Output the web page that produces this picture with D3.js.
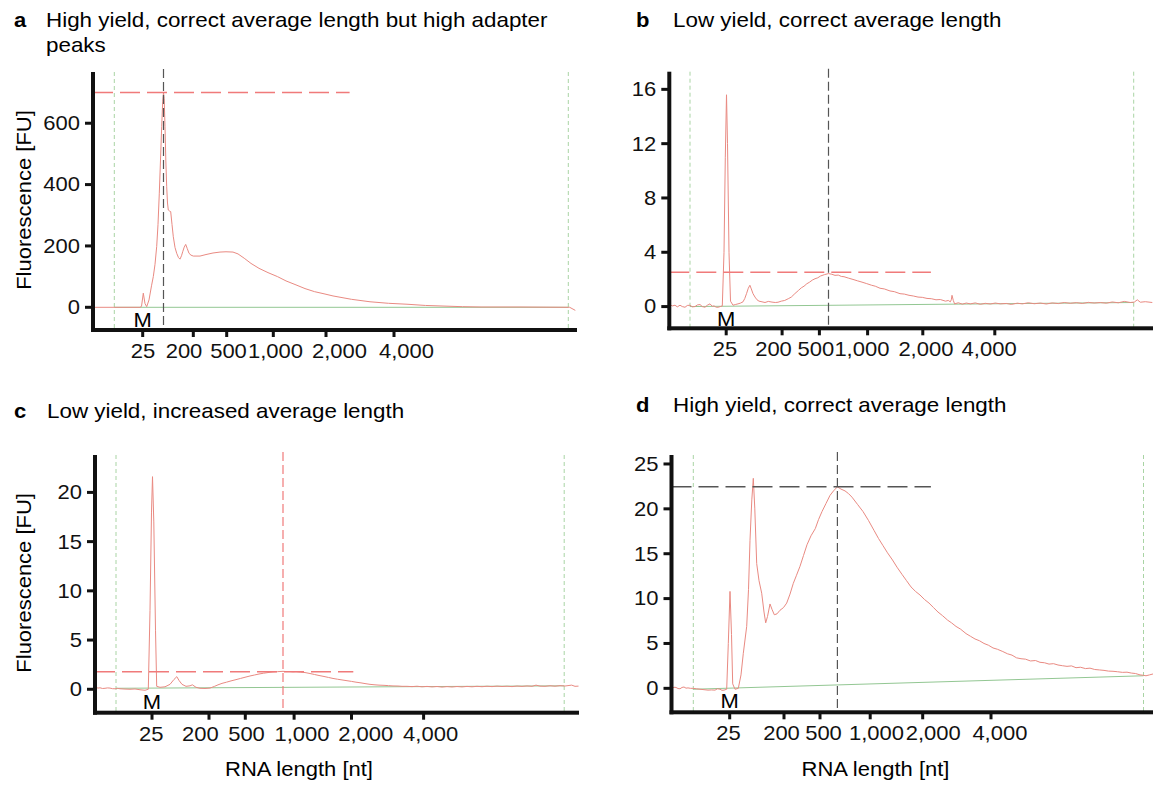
<!DOCTYPE html>
<html>
<head>
<meta charset="utf-8">
<script src="https://cdn.jsdelivr.net/npm/d3@7"></script>
<style>
  body { margin: 0; background: #fff; }
  text { font-family: "Liberation Sans", Arial, sans-serif; }
</style>
</head>
<body>
<div id="chart"></div>
<script>
// x values are migration time [s], y values fluorescence [FU]
var tickLabels = ["25", "200", "500", "1,000", "2,000", "4,000"];

// tick marks
var ticksA = [24.97, 30.03, 33.37, 38.03, 43.30, 50.10];
var ticksB = [25.69, 31.28, 35.01, 39.83, 45.35, 52.55];
var ticksC = [25.70, 31.40, 35.03, 39.91, 45.65, 52.86];
var ticksD = [25.82, 31.25, 34.85, 39.87, 45.12, 51.95];

// where the tick labels sit (they are not centred on the marks)
var labelPosA = [24.95, 29.05, 33.50, 38.20, 44.60, 51.30];
var labelPosB = [25.51, 30.37, 34.61, 39.21, 45.61, 51.93];
var labelPosC = [25.58, 30.48, 35.10, 40.65, 47.03, 53.51];
var labelPosD = [25.65, 30.95, 35.15, 40.45, 46.12, 52.79];

var yTicksA = [0, 200, 400, 600];
var yTicksB = [0, 4, 8, 12, 16];
var yTicksC = [0, 5, 10, 15, 20];
var yTicksD = [0, 5, 10, 15, 20, 25];

var yDomainA = [-74, 767];
var yDomainB = [-1.6, 17.3];
var yDomainC = [-2.38, 23.8];
var yDomainD = [-2.67, 26.0];

// lower / upper marker times (green dashed lines)
var markersA = [22.13, 67.53];
var markersB = [22.07, 66.44];
var markersC = [22.10, 66.92];
var markersD = [22.18, 67.20];

// main peak: time, height
var peakA = [27.05, 700];
var peakB = [35.92, 2.53];
var peakC = [38.80, 1.79];
var peakD = [36.59, 22.45];

// baselines
var baseA = [[22.13, 0], [67.53, 0]];
var baseB = [[22.07, 0.0], [66.44, 0.3]];
var baseC = [[22.10, 0.1], [66.92, 0.35]];
var baseD = [[22.18, -0.1], [67.20, 1.4]];

var traceA = [[20.06,0],[24.7,0],[24.85,3],[25.03,46],[25.2,12],[25.37,2],[25.6,24],[25.85,70],[26.03,100],[26.2,140],
  [26.37,198],[26.5,270],[26.63,372],[26.75,480],[26.87,589],[26.97,670],[27.05,700],[27.12,680],[27.2,589],[27.28,480],
  [27.37,393],[27.45,340],[27.53,317],[27.65,314],[27.77,312],[27.9,270],[28.03,230],[28.2,195],[28.37,176],[28.55,162],
  [28.7,157],[28.85,168],[28.97,181],[29.12,196],[29.27,205],[29.42,192],[29.6,176],[29.8,170],[30.03,167],[30.7,167],
  [31.3,172],[32.0,177],[32.7,180],[33.3,181],[34.0,180],[34.5,174],[35.12,160],[35.8,143],[36.6,127],[37.5,113],
  [38.45,100],[39.3,86],[40.3,73],[41.2,61],[42.15,51],[43.1,44],[44.0,37],[45.85,26],[47.7,18],[49.55,13],
  [51.4,10],[53.25,6],[55.1,4],[56.95,2],[58.8,1],[62.7,1],[67.67,0],[68.23,-10]];

var traceB = [[20.02,0.15],[20.3,0.05],[20.57,0.1],[20.8,-0.02],[21.07,0.1],[21.3,0.0],[21.57,-0.05],[21.8,0.08],
  [22.07,0.1],[22.3,-0.02],[22.57,0.0],[22.8,0.12],[23.07,0.15],[23.3,0.0],[23.57,-0.05],[23.8,0.1],[24.07,0.2],
  [24.3,0.02],[24.47,0.05],[24.7,-0.05],[24.87,-0.05],[25.1,0.0],[25.3,0.05],[25.47,4],[25.6,11],[25.72,15.6],
  [25.82,12],[25.97,4],[26.12,0.4],[26.37,0.1],[26.6,0.15],[26.87,0.2],[27.1,0.25],[27.37,0.35],[27.55,0.6],
  [27.72,0.95],[27.9,1.35],[28.06,1.57],[28.2,1.3],[28.37,0.95],[28.57,0.7],[28.77,0.5],[28.97,0.4],[29.27,0.35],
  [29.57,0.3],[29.9,0.38],[30.27,0.33],[30.6,0.3],[30.87,0.32],[31.2,0.4],[31.54,0.45],[31.9,0.58],[32.2,0.7],
  [32.55,0.95],[32.93,1.2],[33.2,1.38],[33.47,1.5],[33.75,1.68],[34.03,1.8],[34.3,1.95],[34.57,2.05],[34.85,2.12],
  [35.12,2.25],[35.5,2.35],[35.92,2.43],[36.25,2.38],[36.57,2.3],[36.9,2.32],[37.2,2.22],[37.47,2.2],[37.9,2.1],
  [38.37,2.0],[38.8,1.9],[39.27,1.8],[39.7,1.7],[40.23,1.57],[40.6,1.5],[41.07,1.35],[41.5,1.3],[42.07,1.15],
  [42.5,1.1],[43.07,0.95],[43.5,0.92],[43.97,0.83],[44.4,0.78],[44.87,0.7],[45.3,0.68],[45.77,0.6],[46.2,0.58],
  [46.67,0.5],[47.1,0.52],[47.62,0.4],[47.9,0.45],[48.1,0.35],[48.2,0.5],[48.27,0.83],[48.4,0.45],[48.53,0.2],
  [48.9,0.28],[49.3,0.18],[49.7,0.26],[50.1,0.2],[50.6,0.27],[51.1,0.17],[51.6,0.24],[52.1,0.19],[52.6,0.26],
  [53.1,0.2],[53.7,0.23],[54.2,0.16],[54.8,0.25],[55.3,0.2],[55.9,0.28],[56.5,0.21],[57.1,0.26],[57.7,0.19],
  [58.3,0.27],[58.9,0.22],[59.5,0.3],[60.1,0.24],[60.7,0.29],[61.3,0.23],[61.9,0.31],[62.5,0.26],[63.1,0.3],
  [63.7,0.25],[64.3,0.34],[64.9,0.28],[65.5,0.38],[66.1,0.3],[66.5,0.33],[66.8,0.5],[67.1,0.32],[67.6,0.36],[68.3,0.3]];

var traceC = [[20.05,0.2],[20.3,0.12],[20.5,0.15],[20.75,0.08],[21.0,0.1],[21.25,0.14],[21.5,0.12],[21.75,0.06],
  [22.0,0.05],[22.25,0.09],[22.5,0.05],[23.0,0.02],[23.5,0.0],[24.0,0.03],[24.5,-0.05],[25.0,-0.1],[25.33,0],
  [25.5,8],[25.65,18],[25.75,21.6],[25.88,17],[26.05,6],[26.17,0.3],[26.5,0.2],[27.0,0.25],[27.5,0.5],[27.9,1.0],
  [28.18,1.28],[28.4,0.9],[28.7,0.5],[29.1,0.3],[29.5,0.35],[29.74,0.45],[30.1,0.2],[30.5,0.1],[31.0,0.08],
  [31.5,0.12],[31.96,0.3],[32.3,0.45],[32.7,0.6],[33.15,0.72],[33.6,0.85],[34.1,0.98],[34.55,1.1],[35.0,1.22],
  [35.5,1.35],[35.95,1.45],[36.4,1.55],[36.85,1.63],[37.3,1.7],[37.8,1.76],[38.25,1.79],[38.8,1.82],[39.15,1.8],
  [39.5,1.8],[39.8,1.77],[40.1,1.79],[40.55,1.74],[41.0,1.7],[41.5,1.6],[41.95,1.5],[42.4,1.4],[42.9,1.3],
  [43.35,1.2],[43.8,1.1],[44.25,1.02],[44.7,0.95],[45.2,0.87],[45.65,0.8],[46.1,0.72],[46.6,0.65],[47.0,0.58],
  [47.5,0.5],[48.0,0.45],[48.4,0.42],[48.9,0.4],[49.35,0.37],[49.8,0.34],[50.3,0.33],[50.7,0.3],[51.2,0.3],
  [51.7,0.27],[52.2,0.31],[52.7,0.25],[53.2,0.29],[53.7,0.24],[54.2,0.28],[54.7,0.22],[55.2,0.27],[55.7,0.23],
  [56.2,0.28],[56.7,0.24],[57.2,0.29],[57.7,0.25],[58.2,0.3],[58.7,0.26],[59.2,0.31],[59.7,0.27],[60.2,0.32],
  [60.7,0.28],[61.2,0.31],[61.7,0.27],[62.2,0.33],[62.7,0.29],[63.2,0.34],[63.7,0.3],[64.1,0.42],[64.5,0.32],
  [65.0,0.3],[65.5,0.36],[66.0,0.31],[66.5,0.37],[67.0,0.33],[67.66,0.42],[68.0,0.3],[68.35,0.32]];

var traceD = [[20.05,0],[20.25,0.12],[20.45,0.1],[20.65,-0.02],[20.85,-0.05],[21.05,0.1],[21.25,0.15],[21.45,0.02],
  [21.65,0.05],[21.9,0.0],[22.15,0],[22.5,-0.05],[22.85,-0.1],[23.25,-0.15],[23.65,-0.2],[24.0,-0.18],[24.35,-0.2],
  [24.6,-0.05],[24.85,-0.1],[25.05,-0.22],[25.25,-0.2],[25.52,-0.1],[25.68,5],[25.85,10.8],[26.0,6],[26.12,0.5],
  [26.35,-0.1],[26.68,0],[26.95,1.5],[27.18,3.9],[27.52,6.9],[27.7,11],[27.85,16.5],[28.03,21],[28.18,23.4],
  [28.33,20],[28.52,13.9],[28.75,12],[29.02,10.6],[29.25,8.5],[29.42,7.3],[29.6,8.0],[29.85,9.4],[30.05,8.8],
  [30.28,8.2],[30.55,8.3],[30.85,8.7],[31.2,9.0],[31.52,9.5],[31.85,10.5],[32.18,11.7],[32.5,12.6],[32.85,13.6],
  [33.2,14.8],[33.55,16.0],[33.95,17.0],[34.38,17.8],[34.7,18.8],[35.05,19.7],[35.45,20.6],[35.85,21.5],[36.2,22.0],
  [36.59,22.45],[36.95,22.2],[37.35,22.0],[37.7,21.7],[38.05,21.3],[38.6,20.5],[39.15,19.7],[39.7,18.7],[40.25,17.6],
  [40.7,16.7],[41.15,15.9],[41.6,15.1],[42.1,14.3],[42.55,13.5],[43.05,12.7],[43.5,12.0],[43.95,11.3],[44.4,10.8],
  [44.85,10.4],[45.3,9.9],[45.75,9.5],[46.2,9.0],[46.65,8.5],[47.1,8.1],[47.61,7.6],[48.0,7.3],[48.45,6.9],
  [48.9,6.6],[49.45,6.1],[49.9,5.8],[50.35,5.5],[50.8,5.3],[51.25,5.0],[51.7,4.8],[52.15,4.5],[52.6,4.35],
  [53.13,4.1],[53.6,3.85],[54.05,3.7],[54.5,3.4],[54.95,3.3],[55.4,3.25],[55.9,3.05],[56.4,3.1],[56.85,2.9],
  [57.3,2.85],[57.75,2.7],[58.2,2.75],[58.65,2.6],[59.1,2.52],[59.55,2.45],[60.0,2.5],[60.45,2.3],[60.9,2.35],
  [61.4,2.2],[61.85,2.25],[62.32,2.1],[62.8,2.05],[63.25,2.0],[63.7,1.92],[64.15,1.9],[64.6,1.85],[65.1,1.78],
  [65.55,1.8],[66.0,1.7],[66.4,1.65],[66.85,1.5],[67.2,1.45],[67.45,1.4],[67.8,1.5],[68.15,1.6]];

var RED = "#e98a82", REDDASH = "#f07a7a", GREENLINE = "#93c793", GREENDASH = "#a9d4a4", DARK = "#555";
var STRETCH = "scale(1.1,1)"; // the figure's type is a little wider than Liberation Sans

var panels = [
  {letter: "a", title: ["High yield, correct average length but high adapter", "peaks"], lx: 14, tx: 46, ty: 27,
   left: 93, right: 577, top: 72, bottom: 330, tMax: 68.4, yDomain: yDomainA, yTicks: yTicksA,
   ticks: ticksA, labelPos: labelPosA, trace: traceA, base: baseA, markers: markersA, peak: peakA, hEnd: 45.66,
   hColor: REDDASH, vColor: DARK, yLabel: true, xLabel: false},
  {letter: "b", title: ["Low yield, correct average length"], lx: 636, tx: 673, ty: 27,
   left: 669.3, right: 1153, top: 71.7, bottom: 328.3, tMax: 68.37, yDomain: yDomainB, yTicks: yTicksB,
   ticks: ticksB, labelPos: labelPosB, trace: traceB, base: baseB, markers: markersB, peak: peakB, hEnd: 46.16,
   hColor: REDDASH, vColor: DARK, yLabel: false, xLabel: false},
  {letter: "c", title: ["Low yield, increased average length"], lx: 14, tx: 47, ty: 418,
   left: 95, right: 579, top: 455, bottom: 712.7, tMax: 68.4, yDomain: yDomainC, yTicks: yTicksC,
   ticks: ticksC, labelPos: labelPosC, trace: traceC, base: baseC, markers: markersC, peak: peakC, hEnd: 45.83,
   hColor: REDDASH, vColor: REDDASH, yLabel: true, xLabel: true},
  {letter: "d", title: ["High yield, correct average length"], lx: 636, tx: 673, ty: 412,
   left: 671.5, right: 1153, top: 455, bottom: 712.3, tMax: 68.15, yDomain: yDomainD, yTicks: yTicksD,
   ticks: ticksD, labelPos: labelPosD, trace: traceD, base: baseD, markers: markersD, peak: peakD, hEnd: 45.94,
   hColor: DARK, vColor: DARK, yLabel: false, xLabel: true}
];

var svg = d3.select("#chart")
  .append("svg")
    .attr("width", 1153)
    .attr("height", 785);

panels.forEach(function(p) {
  var x = d3.scaleLinear().domain([20, p.tMax]).range([p.left, p.right]);
  var y = d3.scaleLinear().domain(p.yDomain).range([p.bottom, p.top]);
  var g = svg.append("g");

  // title
  g.append("text")
    .attr("transform", "translate(" + p.lx + "," + p.ty + ") " + STRETCH)
    .style("font-size", "20px").style("font-weight", "bold")
    .text(p.letter);
  p.title.forEach(function(line, i) {
    g.append("text")
      .attr("transform", "translate(" + p.tx + "," + (p.ty + i * 24.5) + ") scale(1.12,1)")
      .style("font-size", "20px")
      .text(line);
  });

  // green marker lines
  g.selectAll("line.marker")
    .data(p.markers)
    .enter()
    .append("line")
      .attr("x1", function(d) { return x(d); })
      .attr("x2", function(d) { return x(d); })
      .attr("y1", p.top)
      .attr("y2", p.bottom)
      .attr("stroke", GREENDASH)
      .attr("stroke-width", 1)
      .attr("stroke-dasharray", "4,3");

  var line = d3.line()
    .x(function(d) { return x(d[0]); })
    .y(function(d) { return y(d[1]); });

  // baseline
  g.append("path")
    .datum(p.base)
    .attr("d", line)
    .attr("fill", "none")
    .attr("stroke", GREENLINE)
    .attr("stroke-width", 1);

  // trace
  g.append("path")
    .datum(p.trace)
    .attr("d", line)
    .attr("fill", "none")
    .attr("stroke", RED)
    .attr("stroke-width", 1)
    .attr("stroke-linejoin", "round");

  // peak lines
  g.append("line")
    .attr("x1", x(p.peak[0])).attr("x2", x(p.peak[0]))
    .attr("y1", p.top - 3).attr("y2", p.bottom)
    .attr("stroke", p.vColor)
    .attr("stroke-width", 1.2)
    .attr("stroke-dasharray", "9,4");

  g.append("line")
    .attr("x1", p.left).attr("x2", x(p.hEnd))
    .attr("y1", y(p.peak[1])).attr("y2", y(p.peak[1]))
    .attr("stroke", p.hColor)
    .attr("stroke-width", 1.5)
    .attr("stroke-dasharray", "20,7");

  // M marker label
  g.append("text")
    .attr("transform", "translate(" + x(p.ticks[0]) + "," + (y(0) + 19.5) + ") " + STRETCH)
    .attr("text-anchor", "middle")
    .style("font-size", "20px")
    .text("M");

  // axes: labels from d3 axes, heavy marks drawn as filled rects
  var yAxis = g.append("g")
    .attr("transform", "translate(" + p.left + ",0)")
    .call(d3.axisLeft(y).tickValues(p.yTicks).tickSize(0).tickPadding(13));
  yAxis.select(".domain").remove();
  var xLabels = g.append("g")
    .attr("transform", "translate(0," + p.bottom + ")")
    .call(d3.axisBottom(x).tickValues(p.labelPos).tickSize(0).tickPadding(14)
      .tickFormat(function(d, i) { return tickLabels[i]; }));
  xLabels.select(".domain").remove();

  g.append("rect")
    .attr("x", p.left - 2).attr("y", p.top)
    .attr("width", 4).attr("height", p.bottom - p.top + 2)
    .attr("fill", "#111");
  g.append("rect")
    .attr("x", p.left - 2).attr("y", p.bottom - 2)
    .attr("width", p.right - p.left + 2).attr("height", 4)
    .attr("fill", "#111");

  g.selectAll("rect.ytick")
    .data(p.yTicks)
    .enter()
    .append("rect")
      .attr("class", "ytick")
      .attr("x", p.left - 8)
      .attr("y", function(d) { return y(d) - 1.5; })
      .attr("width", 7)
      .attr("height", 3)
      .attr("fill", "#111");
  g.selectAll("rect.xtick")
    .data(p.ticks)
    .enter()
    .append("rect")
      .attr("class", "xtick")
      .attr("x", function(d) { return x(d) - 1.5; })
      .attr("y", p.bottom)
      .attr("width", 3)
      .attr("height", 7)
      .attr("fill", "#111");

  yAxis.selectAll("text")
    .attr("x", null)
    .attr("transform", "translate(-13,0) " + STRETCH);
  xLabels.selectAll("text")
    .attr("transform", STRETCH);

  [yAxis, xLabels].forEach(function(ax) {
    ax.selectAll("text")
      .style("font-size", "20px")
      .style("font-family", "'Liberation Sans', Arial, sans-serif")
      .attr("fill", "#111");
  });

  if (p.yLabel) {
    g.append("text")
      .attr("transform", "translate(24," + ((p.top + p.bottom) / 2 - 1) + ") rotate(-90) " + STRETCH)
      .attr("text-anchor", "middle")
      .attr("dominant-baseline", "central")
      .style("font-size", "20px")
      .text("Fluorescence [FU]");
  }
  if (p.xLabel) {
    g.append("text")
      .attr("transform", "translate(" + (p.left + 204) + ",776) " + STRETCH)
      .attr("text-anchor", "middle")
      .style("font-size", "20px")
      .text("RNA length [nt]");
  }
});
</script>
</body>
</html>
